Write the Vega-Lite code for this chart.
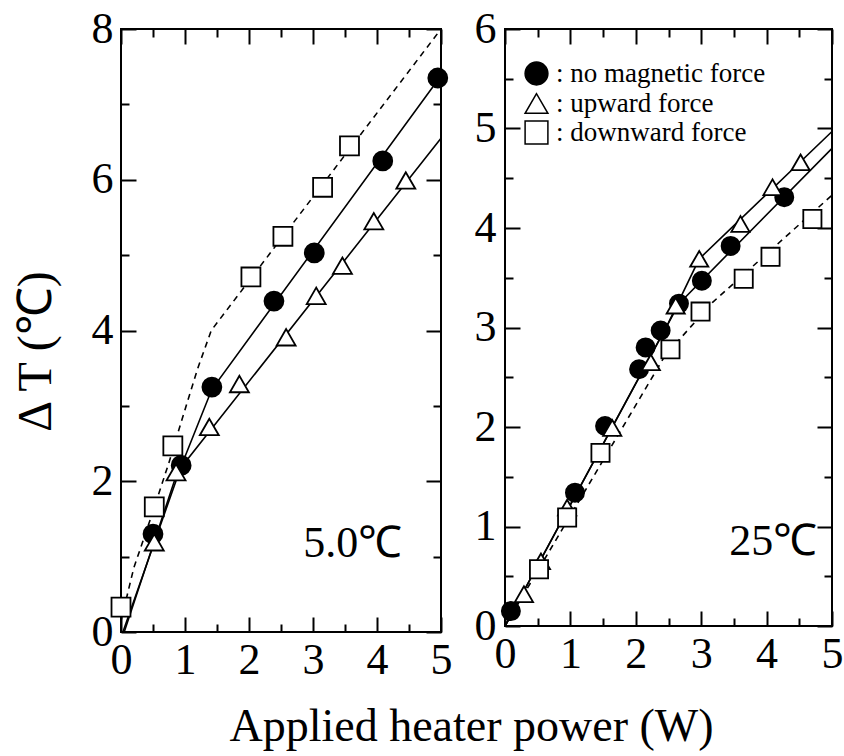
{
  "$schema": "https://vega.github.io/schema/vega-lite/v6.json",
  "background": "white",
  "padding": {"left": 11, "top": 6, "right": 4, "bottom": 4},
  "config": {
    "font": "Liberation Serif",
    "view": {"stroke": "black", "strokeWidth": 2},
    "axis": {
      "labelFont": "Liberation Serif", "labelFontSize": 44, "labelColor": "black",
      "titleFont": "Liberation Serif", "titleFontSize": 44, "titleFontWeight": "normal", "titleColor": "black",
      "domain": false, "grid": false, "tickColor": "black", "tickWidth": 2, "labelFlush": false, "labelOverlap": false
    },
    "title": {"font": "Liberation Serif", "fontSize": 46, "fontWeight": "normal", "color": "black"}
  },
  "title": {"text": "Applied heater power (W)", "orient": "bottom", "anchor": "middle", "dx": 44, "offset": 22},
  "datasets": {
    "pts": [
      {"panel": "L", "series": "no magnetic force", "x": 0.5, "y": 1.3},
      {"panel": "L", "series": "no magnetic force", "x": 0.94, "y": 2.21},
      {"panel": "L", "series": "no magnetic force", "x": 1.42, "y": 3.25},
      {"panel": "L", "series": "no magnetic force", "x": 2.39, "y": 4.39},
      {"panel": "L", "series": "no magnetic force", "x": 3.02, "y": 5.03},
      {"panel": "L", "series": "no magnetic force", "x": 4.09, "y": 6.25},
      {"panel": "L", "series": "no magnetic force", "x": 4.95, "y": 7.35},
      {"panel": "L", "series": "upward force", "x": 0.52, "y": 1.19},
      {"panel": "L", "series": "upward force", "x": 0.86, "y": 2.12},
      {"panel": "L", "series": "upward force", "x": 1.38, "y": 2.72},
      {"panel": "L", "series": "upward force", "x": 1.85, "y": 3.29},
      {"panel": "L", "series": "upward force", "x": 2.58, "y": 3.91},
      {"panel": "L", "series": "upward force", "x": 3.05, "y": 4.46},
      {"panel": "L", "series": "upward force", "x": 3.46, "y": 4.86},
      {"panel": "L", "series": "upward force", "x": 3.95, "y": 5.45},
      {"panel": "L", "series": "upward force", "x": 4.45, "y": 5.99},
      {"panel": "L", "series": "downward force", "x": 0.0, "y": 0.33},
      {"panel": "L", "series": "downward force", "x": 0.52, "y": 1.66},
      {"panel": "L", "series": "downward force", "x": 0.81, "y": 2.47},
      {"panel": "L", "series": "downward force", "x": 2.03, "y": 4.71},
      {"panel": "L", "series": "downward force", "x": 2.53, "y": 5.25},
      {"panel": "L", "series": "downward force", "x": 3.15, "y": 5.9},
      {"panel": "L", "series": "downward force", "x": 3.57, "y": 6.45},
      {"panel": "R", "series": "no magnetic force", "x": 0.09, "y": 0.15},
      {"panel": "R", "series": "no magnetic force", "x": 1.07, "y": 1.34},
      {"panel": "R", "series": "no magnetic force", "x": 1.53, "y": 2.01},
      {"panel": "R", "series": "no magnetic force", "x": 2.05, "y": 2.58},
      {"panel": "R", "series": "no magnetic force", "x": 2.15, "y": 2.8},
      {"panel": "R", "series": "no magnetic force", "x": 2.38, "y": 2.97},
      {"panel": "R", "series": "no magnetic force", "x": 2.66, "y": 3.24},
      {"panel": "R", "series": "no magnetic force", "x": 3.01, "y": 3.47},
      {"panel": "R", "series": "no magnetic force", "x": 3.45, "y": 3.82},
      {"panel": "R", "series": "no magnetic force", "x": 4.27, "y": 4.31},
      {"panel": "R", "series": "upward force", "x": 0.29, "y": 0.32},
      {"panel": "R", "series": "upward force", "x": 0.55, "y": 0.65},
      {"panel": "R", "series": "upward force", "x": 0.95, "y": 1.19},
      {"panel": "R", "series": "upward force", "x": 1.64, "y": 1.99},
      {"panel": "R", "series": "upward force", "x": 2.23, "y": 2.65},
      {"panel": "R", "series": "upward force", "x": 2.61, "y": 3.22},
      {"panel": "R", "series": "upward force", "x": 2.97, "y": 3.69},
      {"panel": "R", "series": "upward force", "x": 3.6, "y": 4.04},
      {"panel": "R", "series": "upward force", "x": 4.09, "y": 4.41},
      {"panel": "R", "series": "upward force", "x": 4.52, "y": 4.66},
      {"panel": "R", "series": "downward force", "x": 0.52, "y": 0.57},
      {"panel": "R", "series": "downward force", "x": 0.95, "y": 1.09},
      {"panel": "R", "series": "downward force", "x": 1.46, "y": 1.74},
      {"panel": "R", "series": "downward force", "x": 2.53, "y": 2.78},
      {"panel": "R", "series": "downward force", "x": 2.99, "y": 3.16},
      {"panel": "R", "series": "downward force", "x": 3.65, "y": 3.49},
      {"panel": "R", "series": "downward force", "x": 4.06, "y": 3.71},
      {"panel": "R", "series": "downward force", "x": 4.7, "y": 4.09}
    ],
    "fit": [
      {"panel": "L", "series": "no magnetic force", "x": 0.03, "y": 0.0},
      {"panel": "L", "series": "no magnetic force", "x": 0.94, "y": 2.2},
      {"panel": "L", "series": "no magnetic force", "x": 1.42, "y": 3.22},
      {"panel": "L", "series": "no magnetic force", "x": 5.0, "y": 7.38},
      {"panel": "L", "series": "upward force", "x": 0.05, "y": 0.0},
      {"panel": "L", "series": "upward force", "x": 0.88, "y": 2.12},
      {"panel": "L", "series": "upward force", "x": 5.0, "y": 6.55},
      {"panel": "L", "series": "downward force", "x": 0.0, "y": 0.15},
      {"panel": "L", "series": "downward force", "x": 0.2, "y": 0.85},
      {"panel": "L", "series": "downward force", "x": 0.5, "y": 1.6},
      {"panel": "L", "series": "downward force", "x": 0.75, "y": 2.25},
      {"panel": "L", "series": "downward force", "x": 1.0, "y": 2.95},
      {"panel": "L", "series": "downward force", "x": 1.2, "y": 3.5},
      {"panel": "L", "series": "downward force", "x": 1.41, "y": 4.0},
      {"panel": "L", "series": "downward force", "x": 5.0, "y": 8.0},
      {"panel": "R", "series": "no magnetic force", "x": 0.0, "y": 0.0},
      {"panel": "R", "series": "no magnetic force", "x": 2.66, "y": 3.24},
      {"panel": "R", "series": "no magnetic force", "x": 5.0, "y": 4.8},
      {"panel": "R", "series": "upward force", "x": 0.0, "y": 0.0},
      {"panel": "R", "series": "upward force", "x": 2.5, "y": 3.05},
      {"panel": "R", "series": "upward force", "x": 2.97, "y": 3.69},
      {"panel": "R", "series": "upward force", "x": 5.0, "y": 4.97},
      {"panel": "R", "series": "downward force", "x": 0.0, "y": 0.0},
      {"panel": "R", "series": "downward force", "x": 2.45, "y": 2.72},
      {"panel": "R", "series": "downward force", "x": 3.17, "y": 3.25},
      {"panel": "R", "series": "downward force", "x": 5.0, "y": 4.33}
    ],
    "notes": [
      {"panel": "L", "label": "5.0℃", "x": 3.62, "y": 1.17},
      {"panel": "R", "label": "25℃", "x": 4.1, "y": 0.84}
    ]
  },
  "spacing": 20,
  "resolve": {"legend": {"shape": "independent", "fill": "independent"}},
  "hconcat": [
    {
      "width": 320, "height": 603,
      "resolve": {"axis": {"x": "independent", "y": "independent"}},
      "layer": [
        {
          "data": {"name": "fit"},
          "transform": [{"filter": "datum.panel === 'L' && datum.series !== 'downward force'"}],
          "mark": {"type": "line", "color": "black", "strokeWidth": 1.6},
          "encoding": {
            "x": {"field": "x", "type": "quantitative", "scale": {"domain": [0, 5], "nice": false},
                  "axis": {"orient": "bottom", "title": null, "values": [0, 1, 2, 3, 4, 5], "format": "d",
                           "offset": -15, "tickSize": 15, "tickColor": "black", "tickWidth": 2, "labelPadding": 6}},
            "y": {"field": "y", "type": "quantitative", "scale": {"domain": [0, 8], "nice": false},
                  "axis": {"orient": "left", "title": "Δ T  (℃)", "titlePadding": 31, "titleFontSize": 48, "titleY": 322,
                           "values": [0, 2, 4, 6, 8], "format": "d",
                           "offset": -15, "tickSize": 15, "tickColor": "black", "tickWidth": 2, "labelPadding": 8}},
            "detail": {"field": "series"}
          }
        },
        {
          "data": {"name": "fit"},
          "transform": [{"filter": "datum.panel === 'L' && datum.series === 'downward force'"}],
          "mark": {"type": "line", "color": "black", "strokeWidth": 1.6, "strokeDash": [6, 5]},
          "encoding": {
            "x": {"field": "x", "type": "quantitative",
                  "axis": {"orient": "bottom", "title": null, "labels": false, "values": [0.5, 1.5, 2.5, 3.5, 4.5],
                           "offset": -8, "tickSize": 8, "tickColor": "black", "tickWidth": 2}},
            "y": {"field": "y", "type": "quantitative",
                  "axis": {"orient": "left", "title": null, "labels": false, "values": [1, 3, 5, 7],
                           "offset": -8, "tickSize": 8, "tickColor": "black", "tickWidth": 2}}
          }
        },
        {
          "data": {"name": "pts"},
          "transform": [{"filter": "datum.panel === 'L'"}],
          "mark": {"type": "point", "filled": true, "stroke": "black", "strokeWidth": 1.8, "opacity": 1, "size": 360},
          "encoding": {
            "x": {"field": "x", "type": "quantitative", "axis": {"orient": "top", "title": null, "labels": false,
                  "values": [0, 1, 2, 3, 4, 5], "offset": -15, "tickSize": 15, "tickColor": "black", "tickWidth": 2}},
            "y": {"field": "y", "type": "quantitative", "axis": {"orient": "right", "title": null, "labels": false,
                  "values": [0, 2, 4, 6, 8], "offset": -15, "tickSize": 15, "tickColor": "black", "tickWidth": 2}},
            "shape": {"field": "series", "type": "nominal", "legend": null,
                      "scale": {"domain": ["no magnetic force", "upward force", "downward force"], "range": ["circle", "triangle-up", "square"]}},
            "fill": {"field": "series", "type": "nominal", "legend": null,
                     "scale": {"domain": ["no magnetic force", "upward force", "downward force"], "range": ["black", "white", "white"]}}
          }
        },
        {
          "data": {"name": "notes"},
          "transform": [{"filter": "datum.panel === 'L'"}],
          "mark": {"type": "text", "font": "Liberation Serif", "fontSize": 44, "color": "black"},
          "encoding": {
            "x": {"field": "x", "type": "quantitative", "axis": {"orient": "top", "title": null, "labels": false,
                  "values": [0.5, 1.5, 2.5, 3.5, 4.5], "offset": -8, "tickSize": 8, "tickColor": "black", "tickWidth": 2}},
            "y": {"field": "y", "type": "quantitative", "axis": {"orient": "right", "title": null, "labels": false,
                  "values": [1, 3, 5, 7], "offset": -8, "tickSize": 8, "tickColor": "black", "tickWidth": 2}},
            "text": {"field": "label"}
          }
        }
      ]
    },
    {
      "width": 327, "height": 597,
      "resolve": {"axis": {"x": "independent", "y": "independent"}},
      "layer": [
        {
          "data": {"name": "fit"},
          "transform": [{"filter": "datum.panel === 'R' && datum.series !== 'downward force'"}],
          "mark": {"type": "line", "color": "black", "strokeWidth": 1.6},
          "encoding": {
            "x": {"field": "x", "type": "quantitative", "scale": {"domain": [0, 5], "nice": false},
                  "axis": {"orient": "bottom", "title": null, "values": [0, 1, 2, 3, 4, 5], "format": "d",
                           "offset": -15, "tickSize": 15, "tickColor": "black", "tickWidth": 2, "labelPadding": 6}},
            "y": {"field": "y", "type": "quantitative", "scale": {"domain": [0, 6], "nice": false},
                  "axis": {"orient": "left", "title": null, "values": [0, 1, 2, 3, 4, 5, 6], "format": "d",
                           "offset": -15, "tickSize": 15, "tickColor": "black", "tickWidth": 2, "labelPadding": 9}},
            "detail": {"field": "series"}
          }
        },
        {
          "data": {"name": "fit"},
          "transform": [{"filter": "datum.panel === 'R' && datum.series === 'downward force'"}],
          "mark": {"type": "line", "color": "black", "strokeWidth": 1.6, "strokeDash": [6, 5]},
          "encoding": {
            "x": {"field": "x", "type": "quantitative",
                  "axis": {"orient": "bottom", "title": null, "labels": false, "values": [0.5, 1.5, 2.5, 3.5, 4.5],
                           "offset": -8, "tickSize": 8, "tickColor": "black", "tickWidth": 2}},
            "y": {"field": "y", "type": "quantitative",
                  "axis": {"orient": "left", "title": null, "labels": false, "values": [0.5, 1.5, 2.5, 3.5, 4.5, 5.5],
                           "offset": -8, "tickSize": 8, "tickColor": "black", "tickWidth": 2}}
          }
        },
        {
          "data": {"name": "pts"},
          "transform": [{"filter": "datum.panel === 'R'"}],
          "mark": {"type": "point", "filled": true, "stroke": "black", "strokeWidth": 1.8, "opacity": 1, "size": 330},
          "encoding": {
            "x": {"field": "x", "type": "quantitative", "axis": {"orient": "top", "title": null, "labels": false,
                  "values": [0, 1, 2, 3, 4, 5], "offset": -15, "tickSize": 15, "tickColor": "black", "tickWidth": 2}},
            "y": {"field": "y", "type": "quantitative", "axis": {"orient": "right", "title": null, "labels": false,
                  "values": [0, 1, 2, 3, 4, 5, 6], "offset": -15, "tickSize": 15, "tickColor": "black", "tickWidth": 2}},
            "shape": {"field": "series", "type": "nominal",
                      "scale": {"domain": ["no magnetic force", "upward force", "downward force"], "range": ["circle", "triangle-up", "square"]},
                      "legend": {"title": null, "orient": "none", "legendX": 18, "legendY": 31, "labelExpr": "': ' + datum.label",
                                 "labelFont": "Liberation Serif", "labelFontSize": 27, "labelColor": "black", "symbolSize": 520, "labelLimit": 400,
                                 "rowPadding": 1, "labelOffset": 6, "padding": 0,
                                 "encode": {"symbols": {"update": {"stroke": {"value": "black"}, "strokeWidth": {"value": 2}}}}}},
            "fill": {"field": "series", "type": "nominal",
                     "scale": {"domain": ["no magnetic force", "upward force", "downward force"], "range": ["black", "white", "white"]},
                     "legend": {"title": null, "orient": "none", "legendX": 18, "legendY": 31, "labelExpr": "': ' + datum.label",
                                "labelFont": "Liberation Serif", "labelFontSize": 27, "labelColor": "black", "symbolSize": 520, "labelLimit": 400,
                                "rowPadding": 1, "labelOffset": 6, "padding": 0,
                                "encode": {"symbols": {"update": {"stroke": {"value": "black"}, "strokeWidth": {"value": 2}}}}}}
          }
        },
        {
          "data": {"name": "notes"},
          "transform": [{"filter": "datum.panel === 'R'"}],
          "mark": {"type": "text", "font": "Liberation Serif", "fontSize": 44, "color": "black"},
          "encoding": {
            "x": {"field": "x", "type": "quantitative", "axis": {"orient": "top", "title": null, "labels": false,
                  "values": [0.5, 1.5, 2.5, 3.5, 4.5], "offset": -8, "tickSize": 8, "tickColor": "black", "tickWidth": 2}},
            "y": {"field": "y", "type": "quantitative", "axis": {"orient": "right", "title": null, "labels": false,
                  "values": [0.5, 1.5, 2.5, 3.5, 4.5, 5.5], "offset": -8, "tickSize": 8, "tickColor": "black", "tickWidth": 2}},
            "text": {"field": "label"}
          }
        }
      ]
    }
  ]
}
